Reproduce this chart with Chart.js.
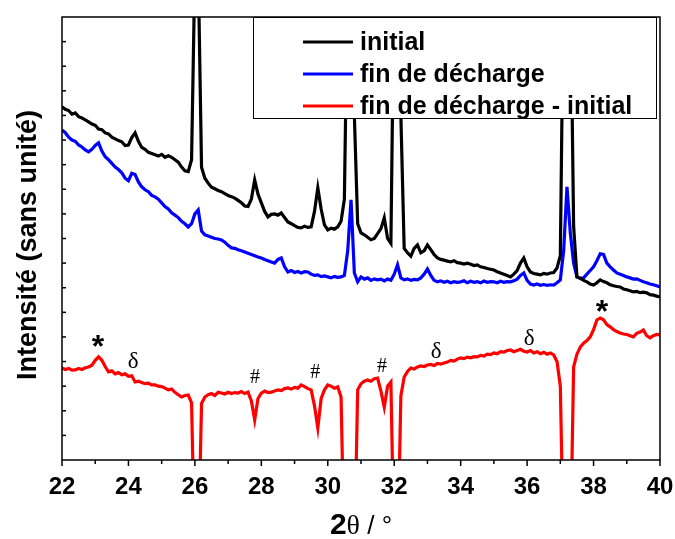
<!DOCTYPE html>
<html>
<head>
<meta charset="utf-8">
<script src="https://cdn.jsdelivr.net/npm/chart.js@4.4.1/dist/chart.umd.min.js"></script>
<style>
  html, body { margin: 0; padding: 0; background: #fff; }
  #wrap { width: 675px; height: 539px; position: relative; }
</style>
</head>
<body>
<div id="wrap"><canvas id="xrd"></canvas></div>
<script>
// 2θ grid: 22.0 -> 40.0, pas de 0.1°
const thetaStart = 22;
const thetaStep = 0.1;

// diffractogramme initial (noir)
const initial = [
  14.35, 14.25, 14.2, 14.05, 14.1, 13.95, 13.9, 13.82, 13.74, 13.65,
  13.6, 13.45, 13.42, 13.29, 13.25, 13.12, 13.05, 12.98, 12.93, 12.78,
  12.8, 13.1, 13.29, 12.95, 12.7, 12.62, 12.5, 12.45, 12.4, 12.35,
  12.42, 12.3, 12.36, 12.3, 12.2, 12.1, 11.9, 11.75, 11.72, 12.2,
  20, 20, 11.9, 11.45, 11.25, 11.08, 11.02, 10.95, 10.9, 10.82,
  10.75, 10.7, 10.64, 10.55, 10.45, 10.32, 10.3, 10.6, 11.38, 10.8,
  10.45, 10.1, 9.88, 9.98, 10.0, 9.95, 10.04, 9.85, 9.67, 9.6,
  9.52, 9.45, 9.43, 9.5, 9.45, 9.47, 10.1, 11.06, 10.2, 9.55,
  9.35, 9.42, 9.38, 9.47, 9.7, 10.6, 20, 20, 14, 9.6,
  9.23, 9.15, 9.05, 8.95, 9.0, 9.2, 9.4, 9.84, 9.0, 8.8,
  20, 20, 14, 8.6, 8.42, 8.28, 8.6, 8.74, 8.42, 8.5,
  8.74, 8.55, 8.35, 8.21, 8.15, 8.12, 8.08, 8.05, 8.1, 8.02,
  8.0, 7.96, 8.0, 7.95, 7.9, 7.93, 7.85, 7.82, 7.78, 7.75,
  7.72, 7.65, 7.6, 7.55, 7.5, 7.44, 7.55, 7.7, 8.0, 8.21,
  7.85, 7.64, 7.58, 7.55, 7.52, 7.58, 7.55, 7.6, 7.62, 7.8,
  8.3, 20, 20, 20, 9.5, 7.44, 7.38, 7.3, 7.24, 7.15,
  7.11, 7.2, 7.32, 7.25, 7.2, 7.12, 7.08, 7.05, 7.03, 6.95,
  6.92, 6.88, 6.83, 6.85, 6.8, 6.82, 6.79, 6.72, 6.7, 6.66,
  6.63
];

// fin de décharge (bleu)
const finDecharge = [
  13.41, 13.3, 13.12, 13.0, 12.95, 12.8, 12.72, 12.6, 12.52, 12.62,
  12.78, 12.89, 12.55, 12.32, 12.2, 12.05, 11.9, 11.8, 11.67, 11.45,
  11.35, 11.65, 11.6, 11.3, 11.1, 10.98, 10.9, 10.75, 10.69, 10.6,
  10.45, 10.3, 10.2, 10.04, 9.95, 9.85, 9.7, 9.6, 9.47, 9.6,
  10.0, 10.16, 9.3, 9.15, 9.1, 9.05, 9.0, 8.98, 8.94, 8.85,
  8.72, 8.62, 8.6, 8.54, 8.5, 8.45, 8.4, 8.35, 8.3, 8.25,
  8.21, 8.15, 8.1, 8.05, 8.0, 8.15, 8.21, 7.85, 7.64, 7.7,
  7.62, 7.66, 7.6, 7.65, 7.64, 7.55, 7.5, 7.52, 7.45, 7.48,
  7.44, 7.4, 7.46, 7.42, 7.44, 7.5, 8.5, 10.57, 7.6, 7.24,
  7.44, 7.35, 7.4, 7.3, 7.36, 7.32, 7.35, 7.28, 7.35, 7.3,
  7.55, 7.93, 7.4, 7.32, 7.36, 7.3, 7.34, 7.32, 7.4, 7.55,
  7.76, 7.5, 7.3, 7.24, 7.28, 7.22, 7.26, 7.2, 7.25, 7.22,
  7.24, 7.28, 7.2, 7.26, 7.22, 7.25, 7.2, 7.27, 7.22, 7.25,
  7.24, 7.2, 7.26, 7.22, 7.25, 7.24, 7.28, 7.35, 7.5, 7.6,
  7.3, 7.15, 7.11, 7.15, 7.1, 7.13, 7.1, 7.12, 7.11, 7.2,
  7.32, 8.5, 11.1, 9.23, 8.0, 7.44, 7.38, 7.4, 7.55, 7.7,
  7.85, 8.1, 8.38, 8.35, 8.0, 7.85, 7.72, 7.6, 7.55, 7.5,
  7.44, 7.4, 7.35, 7.36, 7.3, 7.24, 7.2, 7.15, 7.12, 7.08,
  7.03
];

// fin de décharge - initial (rouge)
const difference = [
  3.74, 3.68, 3.72, 3.65, 3.66, 3.72, 3.68, 3.75, 3.78, 3.85,
  4.05, 4.19, 4.05, 3.8, 3.58, 3.62, 3.5, 3.55, 3.46, 3.5,
  3.4, 3.42, 3.17, 3.2, 3.15, 3.1, 3.12, 3.05, 3.05, 3.0,
  2.98, 2.92, 2.85, 2.88, 2.75, 2.65, 2.56, 2.62, 2.64, 2.32,
  -4, -4, 2.3, 2.56, 2.65, 2.7, 2.62, 2.75, 2.72, 2.68,
  2.75, 2.7, 2.74, 2.72, 2.78, 2.7, 2.76, 2.4, 1.63, 2.5,
  2.72, 2.8, 2.74, 2.76, 2.8, 2.85, 2.82, 2.9, 2.93, 2.88,
  2.95, 2.92, 3.05, 2.98, 2.9, 2.85, 2.2, 1.3, 2.5, 2.85,
  3.05, 3.0, 2.92, 2.97, 2.56, -4, -4, -4, -4, 2.85,
  3.1, 3.2, 3.25, 3.2, 3.3, 3.33, 2.8, 2.15, 3.0, 3.17,
  -4, -4, 2.6, 3.37, 3.6, 3.74, 3.7, 3.78, 3.82, 3.8,
  3.86, 3.88, 3.84, 3.92, 3.9, 3.94, 3.98, 4.05, 4.02, 4.1,
  4.15, 4.12, 4.18, 4.15, 4.2, 4.19, 4.25, 4.22, 4.3, 4.28,
  4.35, 4.32, 4.4, 4.38, 4.45, 4.47, 4.4, 4.45, 4.5, 4.42,
  4.39, 4.45, 4.35, 4.4, 4.32, 4.38, 4.3, 4.35, 4.27, 4.0,
  3.0, -4, -4, -4, 3.78, 4.3, 4.59, 4.75, 4.85, 5.0,
  5.3, 5.69, 5.77, 5.7, 5.5, 5.41, 5.3, 5.22, 5.16, 5.12,
  5.1, 5.05, 5.0, 5.15, 5.2, 5.28, 5.05, 4.96, 5.05, 5.1,
  5.08
];

// repères de phases sur la courbe différence
const markText = ['*', 'δ', '#', '#', '#', 'δ', 'δ', '*'];
const markX = [23.08, 24.14, 27.81, 29.62, 31.63, 33.26, 36.06, 38.25];
const markY = [4.88, 3.98, 3.33, 3.54, 3.78, 4.39, 4.92, 6.3];

const labels = ['initial', 'fin de décharge', 'fin de décharge - initial'];
const colors = ['#000000', '#0000ff', '#ff0000'];

const twoTheta = initial.map((_, i) => +(thetaStart + i * thetaStep).toFixed(1));
const toXY = arr => arr.map((v, i) => ({ x: twoTheta[i], y: v }));

const sans = '"Liberation Sans", Arial, sans-serif';
const serif = '"Liberation Serif", "Times New Roman", serif';
const markFont = {
  '*': 'bold 32px ' + sans,
  'δ': '23px ' + serif,
  '#': '20px ' + serif,
};

const decor = {
  id: 'decor',
  afterDatasetsDraw(chart) {
    const { ctx, chartArea: ca, scales: { x, y } } = chart;
    ctx.save();

    // annotations
    ctx.fillStyle = '#000';
    ctx.textAlign = 'center';
    ctx.textBaseline = 'middle';
    markText.forEach((t, i) => {
      ctx.font = markFont[t];
      const dy = t === '*' ? 8 : 0;
      ctx.fillText(t, x.getPixelForValue(markX[i]), y.getPixelForValue(markY[i]) + dy);
    });

    // cadre
    ctx.strokeStyle = '#000';
    ctx.lineWidth = 1.5;
    ctx.strokeRect(ca.left, ca.top, ca.right - ca.left, ca.bottom - ca.top);

    // graduations x (vers l'extérieur)
    x.ticks.forEach(t => {
      const px = x.getPixelForValue(t.value);
      const len = t.value % 2 === 0 ? 6 : 4;
      ctx.beginPath();
      ctx.moveTo(px, ca.bottom);
      ctx.lineTo(px, ca.bottom + len);
      ctx.stroke();
    });
    // graduations y (vers l'intérieur)
    for (let v = 1; v < 18; v++) {
      const py = y.getPixelForValue(v);
      ctx.beginPath();
      ctx.moveTo(ca.left, py);
      ctx.lineTo(ca.left + 4, py);
      ctx.stroke();
    }

    // légende
    const bx = ca.left + 191, by = ca.top, bw = 403, bh = 101;
    ctx.fillStyle = '#fff';
    ctx.fillRect(bx, by, bw, bh);
    ctx.lineWidth = 1;
    ctx.strokeStyle = '#000';
    ctx.strokeRect(bx + 0.5, by + 0.5, bw, bh);
    ctx.font = 'bold 25px ' + sans;
    ctx.textAlign = 'left';
    ctx.textBaseline = 'middle';
    chart.data.datasets.forEach((ds, i) => {
      const ly = by + 25 + i * 32;
      ctx.strokeStyle = ds.borderColor;
      ctx.lineWidth = 3;
      ctx.beginPath();
      ctx.moveTo(bx + 50, ly);
      ctx.lineTo(bx + 100, ly);
      ctx.stroke();
      ctx.fillStyle = '#000';
      ctx.fillText(ds.label, bx + 107, ly + 1);
    });

    // titre axe y
    ctx.save();
    ctx.translate(36, 245);
    ctx.rotate(-Math.PI / 2);
    ctx.font = 'bold 27px ' + sans;
    ctx.textAlign = 'center';
    ctx.textBaseline = 'alphabetic';
    ctx.fillStyle = '#000';
    ctx.fillText('Intensité (sans unité)', 0, 0);
    ctx.restore();

    // titre axe x : 2θ / °
    const parts = [
      ['2', 'bold 30px ' + sans],
      ['θ', '28px ' + serif],
      [' / °', '26px ' + sans],
    ];
    let total = 0;
    parts.forEach(p => { ctx.font = p[1]; total += ctx.measureText(p[0]).width; });
    let cx = (ca.left + ca.right) / 2 - total / 2;
    ctx.textAlign = 'left';
    ctx.textBaseline = 'alphabetic';
    ctx.fillStyle = '#000';
    parts.forEach(p => {
      ctx.font = p[1];
      ctx.fillText(p[0], cx, 534);
      cx += ctx.measureText(p[0]).width;
    });

    ctx.restore();
  }
};

new Chart(document.getElementById('xrd'), {
  type: 'line',
  data: {
    datasets: [
      { label: labels[0], data: toXY(initial), borderColor: colors[0] },
      { label: labels[1], data: toXY(finDecharge), borderColor: colors[1] },
      { label: labels[2], data: toXY(difference), borderColor: colors[2] },
    ].map(ds => ({ ...ds, borderWidth: 3.2, pointRadius: 0, tension: 0, fill: false })),
  },
  options: {
    responsive: true,
    maintainAspectRatio: false,
    animation: false,
    layout: { padding: { left: 62, right: 15, top: 17, bottom: 0 } },
    plugins: { legend: { display: false }, tooltip: { enabled: false } },
    scales: {
      x: {
        type: 'linear',
        min: 22,
        max: 40,
        grid: { display: false, drawTicks: false },
        border: { display: false },
        ticks: {
          stepSize: 1,
          autoSkip: false,
          maxRotation: 0,
          padding: 13,
          color: '#000',
          font: { family: sans, size: 24, weight: 'bold' },
          callback: v => (v % 2 === 0 ? String(v) : ''),
        },
        afterFit: s => {
          s.height = 79;
          s.paddingLeft = 0;
          s.paddingRight = 0;
        },
      },
      y: {
        display: false,
        min: 0,
        max: 18,
      },
    },
  },
  plugins: [decor],
});
</script>
</body>
</html>
